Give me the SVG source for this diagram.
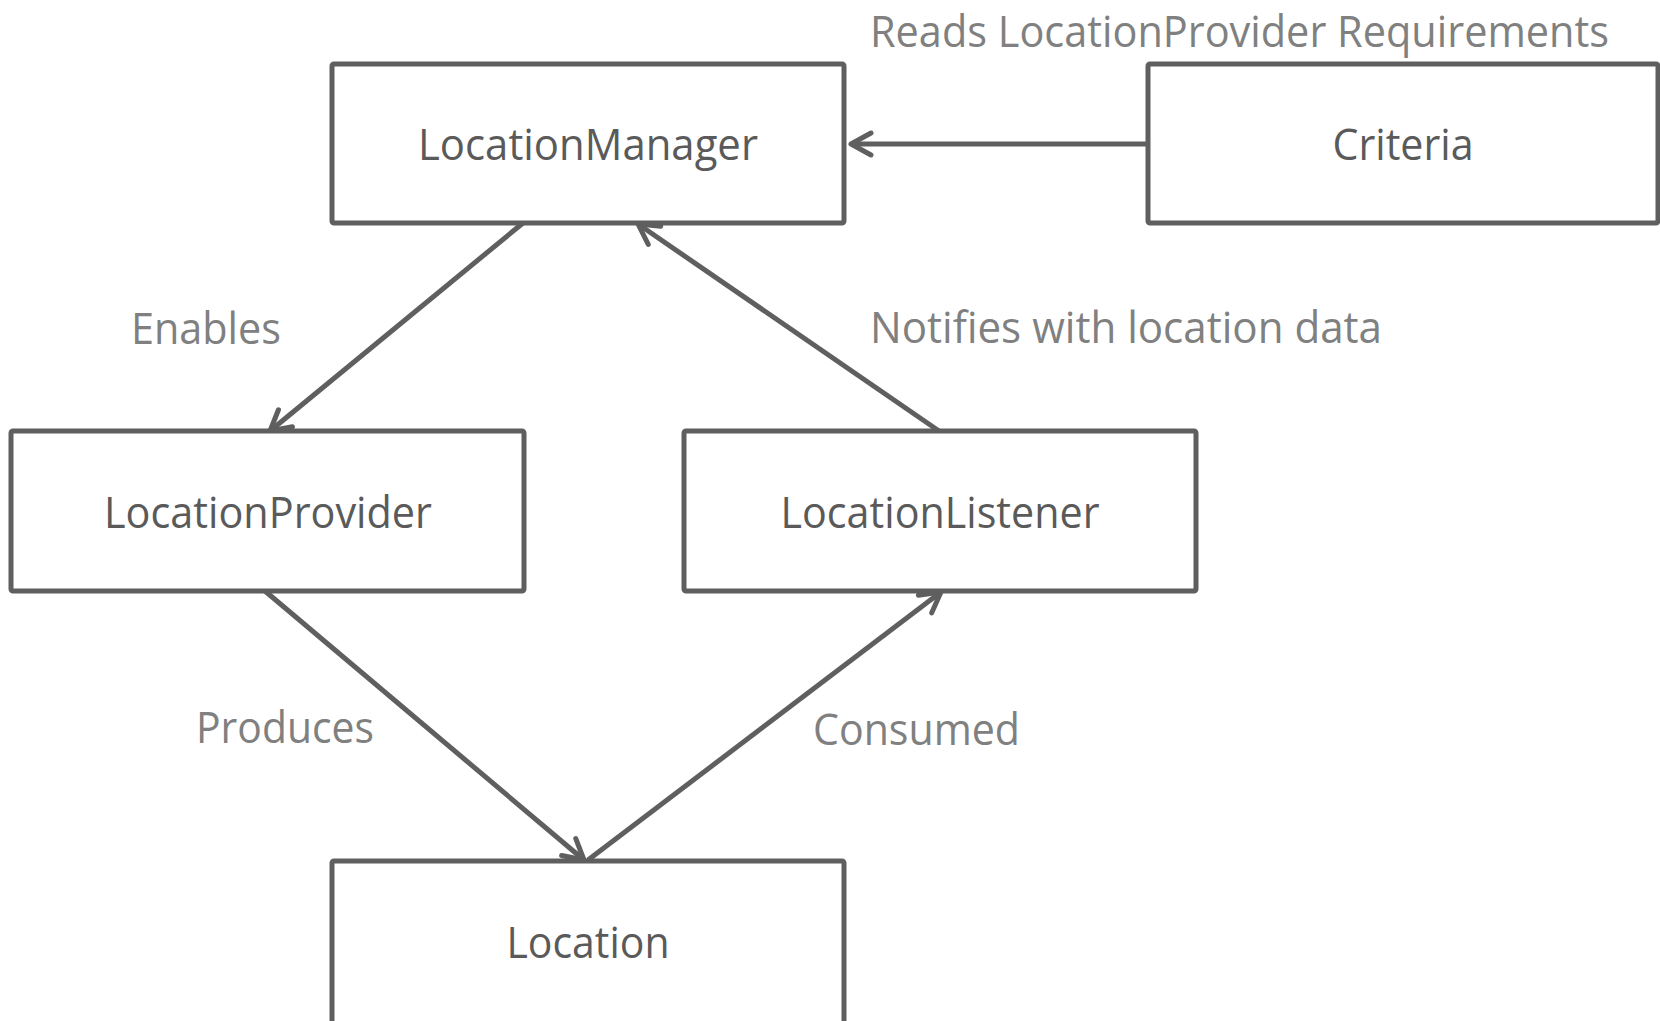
<svg xmlns="http://www.w3.org/2000/svg" width="1660" height="1021" viewBox="0 0 1660 1021">
<style>
.box{fill:#ffffff;stroke:#5f5f5f;stroke-width:5}
.nt{font-family:"Open Sans","Noto Sans",sans-serif;font-size:43px;fill:#5a5a5a;text-anchor:middle;dominant-baseline:central}
.lb{font-family:"Open Sans","Noto Sans",sans-serif;font-size:43px;fill:#808080;dominant-baseline:central}
.edge{stroke:#5f5f5f;stroke-width:5;fill:none;marker-end:url(#arr)}
</style>
<defs>
<marker id="arr" viewBox="0 0 26 26" refX="24" refY="13" markerWidth="26" markerHeight="26" markerUnits="userSpaceOnUse" orient="auto" overflow="visible">
<path d="M4,2 L24,13 L4,24" fill="none" stroke="#5f5f5f" stroke-width="5" stroke-linecap="round" stroke-linejoin="round"/>
</marker>
</defs>
<rect width="1660" height="1021" fill="#ffffff"/>
<g id="connectors">
<line class="edge" x1="1148" y1="144" x2="851" y2="144"/>
<line class="edge" x1="523" y1="223" x2="270" y2="431"/>
<line class="edge" x1="939" y1="431" x2="638" y2="224"/>
<line class="edge" x1="265" y1="591" x2="584" y2="860"/>
<line class="edge" x1="588" y1="860" x2="941" y2="592"/>
</g>
<g id="labels">
<text class="lb" x="870" y="30" font-size="42" textLength="739" lengthAdjust="spacingAndGlyphs">Reads LocationProvider Requirements</text>
<text class="lb" x="131" y="327" textLength="150" lengthAdjust="spacingAndGlyphs">Enables</text>
<text class="lb" x="870" y="326" textLength="512" lengthAdjust="spacingAndGlyphs">Notifies with location data</text>
<text class="lb" x="196" y="726" textLength="178" lengthAdjust="spacingAndGlyphs">Produces</text>
<text class="lb" x="813" y="728" textLength="207" lengthAdjust="spacingAndGlyphs">Consumed</text>
</g>
<g id="node-locationmanager">
<rect class="box" x="332" y="64" width="512" height="159" rx="2"/>
<text class="nt" x="588" y="143" textLength="340" lengthAdjust="spacingAndGlyphs">LocationManager</text>
</g>
<g id="node-criteria">
<rect class="box" x="1148" y="64" width="510" height="159" rx="2"/>
<text class="nt" x="1403" y="143" textLength="141" lengthAdjust="spacingAndGlyphs">Criteria</text>
</g>
<g id="node-locationprovider">
<rect class="box" x="11" y="431" width="513" height="160" rx="2"/>
<text class="nt" x="268" y="511" textLength="328" lengthAdjust="spacingAndGlyphs">LocationProvider</text>
</g>
<g id="node-locationlistener">
<rect class="box" x="684" y="431" width="512" height="160" rx="2"/>
<text class="nt" x="940" y="511" textLength="319" lengthAdjust="spacingAndGlyphs">LocationListener</text>
</g>
<g id="node-location">
<rect class="box" x="332" y="861" width="512" height="175" rx="2"/>
<text class="nt" x="588" y="941" textLength="163" lengthAdjust="spacingAndGlyphs">Location</text>
</g>
</svg>
